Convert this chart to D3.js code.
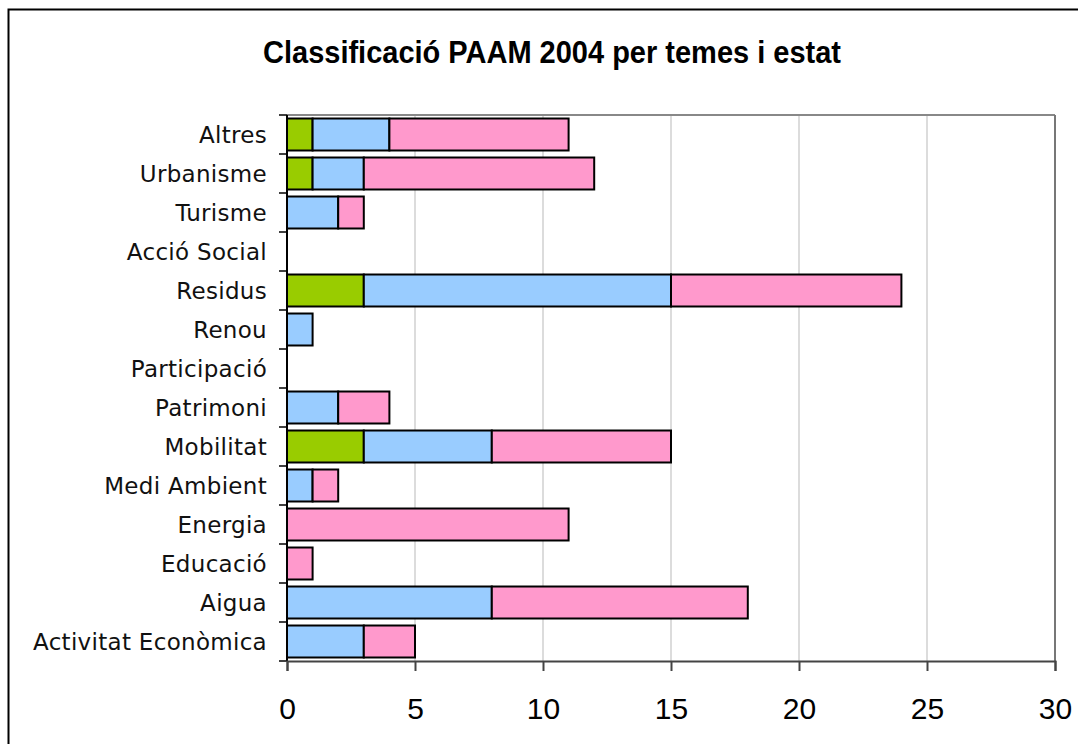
<!DOCTYPE html>
<html>
<head>
<meta charset="utf-8">
<script src="https://cdn.jsdelivr.net/npm/d3@7"></script>
<style>
  body { margin: 0; background: #fff; }
  svg { display: block; }
</style>
</head>
<body>
<div id="chart"></div>
<script>
// categories, top to bottom
const categories = ["Altres", "Urbanisme", "Turisme", "Acció Social", "Residus", "Renou",
    "Participació", "Patrimoni", "Mobilitat", "Medi Ambient", "Energia", "Educació",
    "Aigua", "Activitat Econòmica"];

// series values (green, blue, pink)
const greenVals = [1, 1, 0, 0, 3, 0, 0, 0, 3, 0, 0, 0, 0, 0];
const blueVals = [3, 2, 2, 0, 12, 1, 0, 2, 5, 1, 0, 0, 8, 3];
const pinkVals = [7, 9, 1, 0, 9, 0, 0, 2, 7, 1, 11, 1, 10, 2];

const xTicks = [0, 5, 10, 15, 20, 25, 30];
const title = "Classificació PAAM 2004 per temes i estat";

const width = 1078, height = 744;
const margin = { top: 115, right: 23, bottom: 83, left: 287 };
const innerW = width - margin.left - margin.right;
const innerH = height - margin.top - margin.bottom;

const svg = d3.select("#chart").append("svg")
    .attr("width", width)
    .attr("height", height);

// outer frame
svg.append("rect")
    .attr("x", 8.5).attr("y", 9.5)
    .attr("width", width + 20).attr("height", height + 20)
    .attr("fill", "none").attr("stroke", "#000").attr("stroke-width", 2);

svg.append("text")
    .attr("transform", "translate(552,63) scale(1,1.08)")
    .attr("text-anchor", "middle")
    .style("font-family", "'Liberation Sans', Arial, sans-serif")
    .style("font-weight", "bold")
    .style("font-size", "29px")
    .text(title);

const g = svg.append("g")
    .attr("transform", "translate(" + margin.left + "," + margin.top + ")");

const x = d3.scaleLinear().domain([0, 30]).range([0, innerW]);
const y = d3.scaleBand().domain(categories).range([0, innerH]).paddingInner(0.18).paddingOuter(0.09);

// gridlines
g.append("g")
    .selectAll("line")
    .data(xTicks.slice(1, -1)).enter()
    .append("line")
    .attr("x1", d => x(d)).attr("x2", d => x(d))
    .attr("y1", 0).attr("y2", innerH)
    .attr("stroke", "#d0d0d0").attr("stroke-width", 1.5);

// plot frame top and right
g.append("line").attr("x1", 0).attr("x2", innerW).attr("y1", 0).attr("y2", 0)
    .attr("stroke", "#888").attr("stroke-width", 2);
g.append("line").attr("x1", innerW).attr("x2", innerW).attr("y1", 0).attr("y2", innerH)
    .attr("stroke", "#777").attr("stroke-width", 2);

// stacked data
const keys = ["green", "blue", "pink"];
const colors = { green: "#99cc00", blue: "#99ccff", pink: "#ff99cc" };
const rows = categories.map((c, i) => ({ cat: c, green: greenVals[i], blue: blueVals[i], pink: pinkVals[i] }));
const stack = d3.stack().keys(keys)(rows);

g.append("g")
    .selectAll("g")
    .data(stack).enter()
    .append("g")
    .attr("fill", d => colors[d.key])
    .selectAll("rect")
    .data(d => d.filter(p => p[1] > p[0])).enter()
    .append("rect")
    .attr("x", d => x(d[0]))
    .attr("width", d => x(d[1]) - x(d[0]))
    .attr("y", d => y(d.data.cat))
    .attr("height", y.bandwidth())
    .attr("stroke", "#000")
    .attr("stroke-width", 2);

// y axis
const yAxis = g.append("g");
yAxis.append("line").attr("x1", 0).attr("x2", 0).attr("y1", 0).attr("y2", innerH)
    .attr("stroke", "#000").attr("stroke-width", 2);
yAxis.selectAll("line.tk")
    .data(d3.range(categories.length + 1)).enter()
    .append("line").attr("class", "tk")
    .attr("x1", -8).attr("x2", 0)
    .attr("y1", i => i * innerH / categories.length)
    .attr("y2", i => i * innerH / categories.length)
    .attr("stroke", "#000").attr("stroke-width", 1.5);
yAxis.selectAll("text")
    .data(categories).enter()
    .append("text")
    .attr("x", -20)
    .attr("y", d => y(d) + y.bandwidth() / 2)
    .attr("dy", "0.36em")
    .attr("text-anchor", "end")
    .style("font-family", "'DejaVu Sans', Verdana, sans-serif")
    .style("font-size", "23px")
    .style("letter-spacing", "0.3px")
    .attr("fill", "#111")
    .text(d => d);

// x axis
const xAxis = g.append("g")
    .attr("transform", "translate(0," + innerH + ")")
    .call(d3.axisBottom(x).tickValues(xTicks).tickSize(10).tickPadding(14).tickFormat(d3.format("d")));
xAxis.select(".domain").attr("stroke", "#444").attr("stroke-width", 2);
xAxis.selectAll(".tick line").attr("stroke", "#444").attr("stroke-width", 2);
xAxis.selectAll(".tick text")
    .attr("y", 58)
    .attr("dy", 0)
    .style("font-family", "'Liberation Sans', Arial, sans-serif")
    .style("font-size", "30px")
    .attr("fill", "#000");
</script>
</body>
</html>
